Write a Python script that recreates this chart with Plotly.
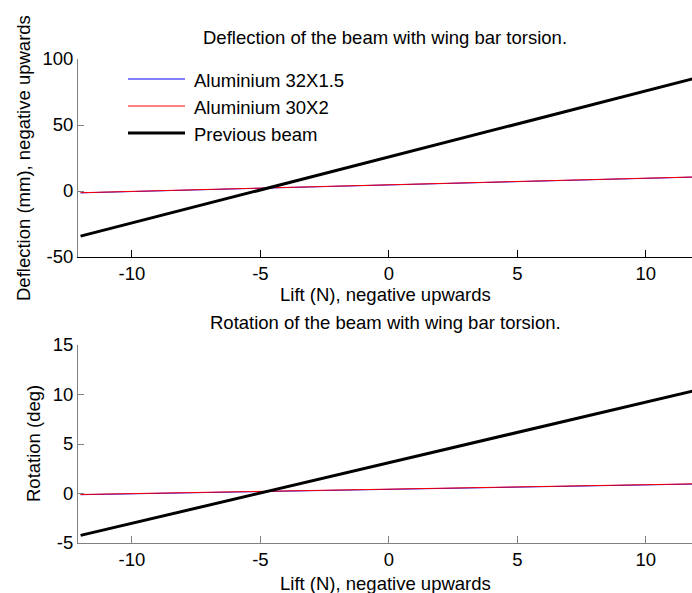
import plotly.graph_objects as go

# ---- data ----
lift = [-12, -8, -4, 0, 4, 8, 12]

defl_al_32x15 = [-1.4, 0.6, 2.6, 4.6, 6.6, 8.6, 10.6]
defl_al_30x2 = [-1.3, 0.7, 2.7, 4.7, 6.7, 8.7, 10.7]
defl_previous = [-34.2, -14.2, 5.8, 25.8, 45.8, 65.8, 85.8]

rot_al_32x15 = [-0.12, 0.06, 0.24, 0.42, 0.60, 0.78, 0.96]
rot_al_30x2 = [-0.10, 0.08, 0.26, 0.44, 0.62, 0.80, 0.98]
rot_previous = [-4.23, -1.78, 0.66, 3.11, 5.56, 8.00, 10.45]

series_names = ["Aluminium 32X1.5", "Aluminium 30X2", "Previous beam"]
series_colors = ["#0000ff", "#ff0000", "#000000"]
series_widths = [1, 1, 3]

x_ticks = [-10, -5, 0, 5, 10]
x_ticktext = ["-10", "-5", "0", "5", "10"]
defl_ticks = [-50, 0, 50, 100]
defl_ticktext = ["-50", "0", "50", "100"]
rot_ticks = [-5, 0, 5, 10, 15]
rot_ticktext = ["-5", "0", "5", "10", "15"]

FONT = "Liberation Sans, Arial, sans-serif"
FS = 18.5

fig = go.Figure()

top = [defl_al_32x15, defl_al_30x2, defl_previous]
bot = [rot_al_32x15, rot_al_30x2, rot_previous]
for name, col, w, yv in zip(series_names, series_colors, series_widths, top):
    fig.add_trace(go.Scatter(x=lift, y=yv, mode="lines", name=name,
                             line=dict(color=col, width=w),
                             xaxis="x", yaxis="y", showlegend=False))
for name, col, w, yv in zip(series_names, series_colors, series_widths, bot):
    fig.add_trace(go.Scatter(x=lift, y=yv, mode="lines", name=name,
                             line=dict(color=col, width=w),
                             xaxis="x2", yaxis="y2", showlegend=False))

ax_common = dict(showgrid=False, zeroline=False, ticks="inside",
                 showline=True, mirror=False,
                 tickfont=dict(family=FONT, size=FS, color="black"))

top_dom = [286 / 484, 1.0]
bot_dom = [0.0, 198 / 484]

fig.update_layout(
    width=692, height=593,
    margin=dict(l=78, r=0, t=59, b=50),
    paper_bgcolor="white", plot_bgcolor="white",
    font=dict(family=FONT, size=FS, color="black"),
    xaxis=dict(ax_common, domain=[0, 1], anchor="y", range=[-12.1, 11.8],
               tickvals=x_ticks, ticktext=x_ticktext, ticklen=7,
               linecolor="#000000", tickcolor="#000000"),
    yaxis=dict(ax_common, domain=top_dom, anchor="x", range=[-50, 100],
               tickvals=defl_ticks, ticktext=defl_ticktext, ticklen=6,
               linecolor="#808080", tickcolor="#808080"),
    xaxis2=dict(ax_common, domain=[0, 1], anchor="y2", range=[-12.1, 11.8],
                tickvals=x_ticks, ticktext=x_ticktext, ticklen=7,
                linecolor="#808080", tickcolor="#808080"),
    yaxis2=dict(ax_common, domain=bot_dom, anchor="x2", range=[-5, 15],
                tickvals=rot_ticks, ticktext=rot_ticktext, ticklen=6,
                linecolor="#808080", tickcolor="#808080"),
    showlegend=False,
)

def px_x(p):
    return (p - 78) / 614

def px_y(p):
    return (543 - p) / 484

annots = [
    dict(text="Deflection of the beam with wing bar torsion.", x=0.5, y=px_y(37)),
    dict(text="Lift (N), negative upwards", x=0.5, y=px_y(294)),
    dict(text="Rotation of the beam with wing bar torsion.", x=0.5, y=px_y(322)),
    dict(text="Lift (N), negative upwards", x=0.5, y=px_y(583)),
    dict(text="Deflection (mm), negative upwards", x=px_x(23), y=px_y(158), textangle=-90),
    dict(text="Rotation (deg)", x=px_x(33), y=px_y(444), textangle=-90),
]
for a in annots:
    fig.add_annotation(xref="paper", yref="paper", showarrow=False,
                       xanchor="center", yanchor="middle",
                       font=dict(family=FONT, size=FS, color="black"), **a)

# custom legend (MATLAB style, no box)
leg_rows = [79, 106, 133]
for name, col, w, ry in zip(series_names, series_colors, series_widths, leg_rows):
    fig.add_shape(type="line", xref="paper", yref="paper",
                  x0=px_x(128), x1=px_x(185), y0=px_y(ry), y1=px_y(ry),
                  line=dict(color=col, width=w))
    fig.add_annotation(xref="paper", yref="paper", showarrow=False,
                       x=px_x(192), y=px_y(ry + 1), xanchor="left", yanchor="middle",
                       text=name, font=dict(family=FONT, size=FS, color="black"))

fig.write_html("out.html")
